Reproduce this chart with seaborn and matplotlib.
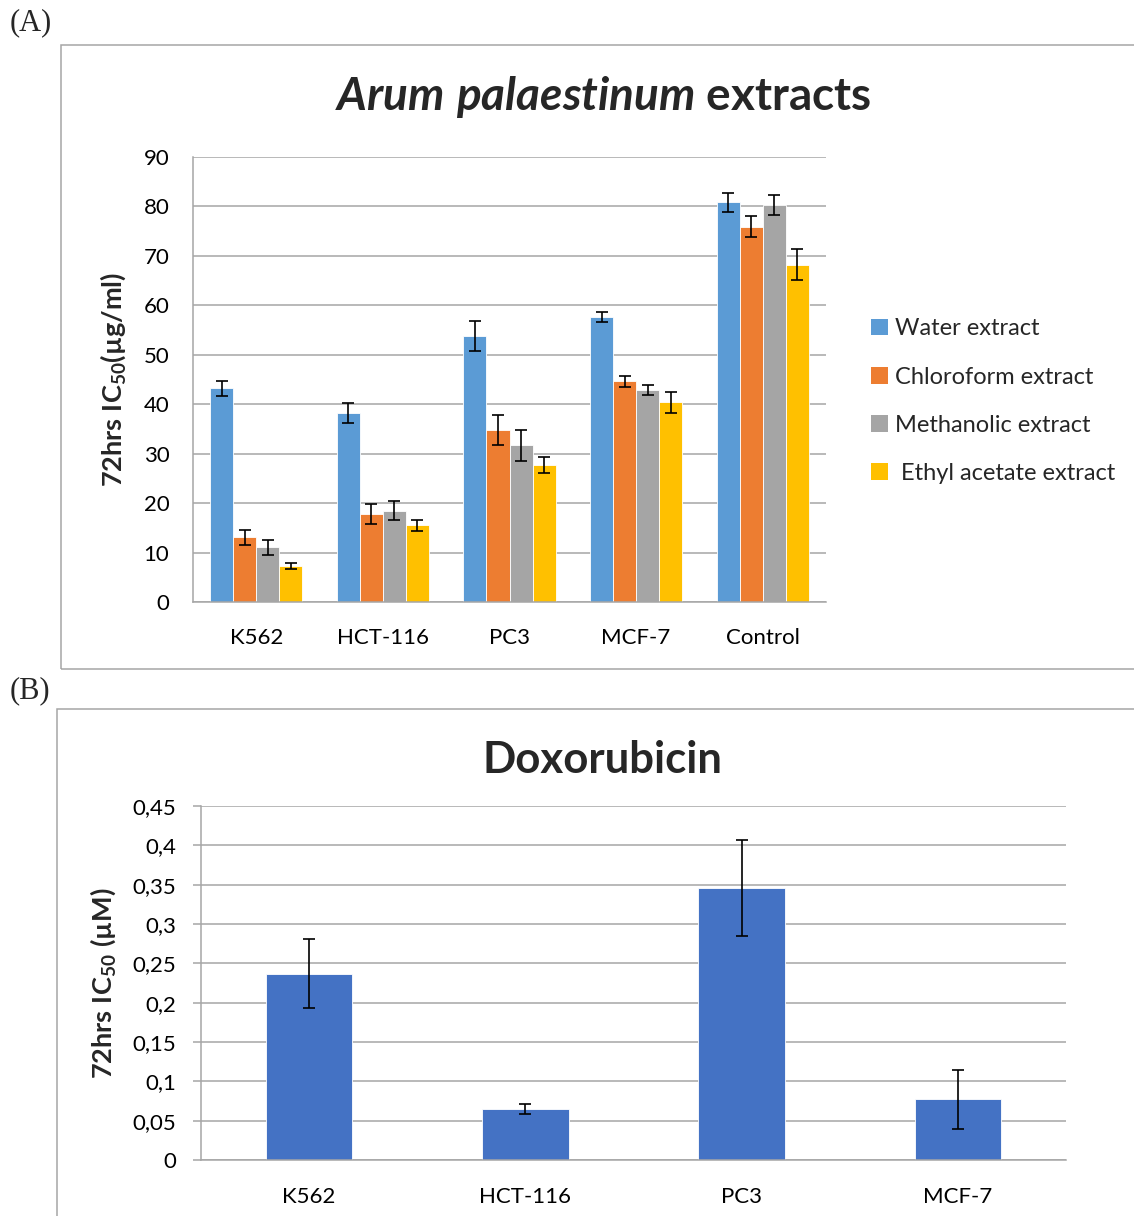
import matplotlib
matplotlib.use("Agg")
import matplotlib.pyplot as plt
from matplotlib.patches import Rectangle, Patch
from matplotlib.ticker import FixedLocator, FixedFormatter
import seaborn as sns
import pandas as pd

# ---------------- data ----------------
cell_lines = ["K562", "HCT-116", "PC3", "MCF-7", "Control"]
extracts = ["Water extract", "Chloroform extract", "Methanolic extract", " Ethyl acetate extract"]
water = [43.2, 38.2, 53.8, 57.6, 80.8]
water_err = [1.5, 2.0, 3.0, 1.0, 2.0]
chloroform = [13.1, 17.8, 34.8, 44.6, 75.9]
chloroform_err = [1.5, 2.0, 3.1, 1.1, 2.1]
methanolic = [11.1, 18.5, 31.7, 42.9, 80.3]
methanolic_err = [1.5, 2.0, 3.1, 1.0, 2.0]
ethyl = [7.2, 15.5, 27.7, 40.4, 68.2]
ethyl_err = [0.6, 1.1, 1.6, 2.1, 3.1]
a_yticks = [0, 10, 20, 30, 40, 50, 60, 70, 80, 90]

dox_lines = ["K562", "HCT-116", "PC3", "MCF-7"]
dox = [0.237, 0.065, 0.346, 0.077]
dox_err = [0.044, 0.006, 0.061, 0.037]
b_yticks = [0, 0.05, 0.1, 0.15, 0.2, 0.25, 0.3, 0.35, 0.4, 0.45]
b_yticklabels = ["0", "0,05", "0,1", "0,15", "0,2", "0,25", "0,3", "0,35", "0,4", "0,45"]

colors = ["#5B9BD5", "#ED7D31", "#A5A5A5", "#FFC000"]
dox_color = "#4472C4"
grid_c = "#A6A6A6"

# ---------------- style ----------------
sns.set_theme(style="white")
plt.rcParams["font.family"] = ["Lato", "DejaVu Sans"]
plt.rcParams["mathtext.fontset"] = "custom"
plt.rcParams["mathtext.rm"] = "Lato"
plt.rcParams["mathtext.bf"] = "Lato:bold"
plt.rcParams["mathtext.it"] = "Lato:italic:bold"

W, H = 1134, 1216
fig = plt.figure(figsize=(W / 100, H / 100), dpi=100)

def fx(px):
    return px / W

def fy(py):
    return 1 - py / H

TICK_FS = 16

# ---------------- panel A ----------------
axA = fig.add_axes([fx(193), fy(602), fx(826) - fx(193), fy(157) - fy(602)])
series = [water, chloroform, methanolic, ethyl]
errs = [water_err, chloroform_err, methanolic_err, ethyl_err]
rows = []
for name, vals in zip(extracts, series):
    for c, v in zip(cell_lines, vals):
        rows.append({"cell": c, "ic50": v, "extract": name})
dfA = pd.DataFrame(rows)
sns.barplot(data=dfA, x="cell", y="ic50", hue="extract", order=cell_lines,
            hue_order=extracts, palette=colors, width=0.727, errorbar=None,
            edgecolor="white", linewidth=0.6, saturation=1, ax=axA, legend=False)
for cont, e in zip(axA.containers, errs):
    xs = [p.get_x() + p.get_width() / 2 for p in cont.patches]
    ys = [p.get_height() for p in cont.patches]
    axA.errorbar(xs, ys, yerr=e, fmt="none", ecolor="black", elinewidth=1.2,
                 capsize=4.3, capthick=1.2, zorder=5)
axA.set_ylim(0, 90)
axA.set_yticks(a_yticks)
axA.set_xlim(-0.5, len(cell_lines) - 0.5)
axA.yaxis.grid(True, color=grid_c, linewidth=1.1)
axA.set_axisbelow(True)
for s in ["top", "right"]:
    axA.spines[s].set_visible(False)
for s in ["left", "bottom"]:
    axA.spines[s].set_color(grid_c)
    axA.spines[s].set_linewidth(1.1)
axA.tick_params(axis="y", length=0, pad=17, labelsize=TICK_FS, labelcolor="black")
axA.tick_params(axis="x", length=0, pad=19, labelsize=TICK_FS, labelcolor="black")
axA.set_xlabel("")
axA.set_ylabel(r"$\mathbf{72hrs\ IC}_{\mathbf{50}}\mathbf{(µg/ml)}$", fontsize=19.5)
axA.yaxis.set_label_coords(-0.103, 0.5)

fig.text(fx(603), fy(97), r"$\mathit{Arum\ palaestinum}$ extracts", ha="center",
         va="center", fontsize=33, fontweight="bold")

handles = [Patch(facecolor=c, edgecolor="none") for c in colors]
fig.legend(handles, extracts, loc="upper left", bbox_to_anchor=(fx(862), fy(309)),
           frameon=False, fontsize=17, handlelength=0.7, handleheight=0.7,
           handletextpad=0.3, labelspacing=1.15, borderaxespad=0)

# ---------------- panel B ----------------
axB = fig.add_axes([fx(201), fy(1160), fx(1066) - fx(201), fy(806) - fy(1160)])
dfB = pd.DataFrame({"cell": dox_lines, "ic50": dox})
sns.barplot(data=dfB, x="cell", y="ic50", order=dox_lines, color=dox_color,
            width=0.4, errorbar=None, edgecolor="white", linewidth=0.6,
            saturation=1, ax=axB)
cont = axB.containers[0]
xs = [p.get_x() + p.get_width() / 2 for p in cont.patches]
ys = [p.get_height() for p in cont.patches]
axB.errorbar(xs, ys, yerr=dox_err, fmt="none", ecolor="black", elinewidth=1.2,
             capsize=4.3, capthick=1.2, zorder=5)
axB.set_ylim(0, 0.45)
axB.set_xlim(-0.5, len(dox_lines) - 0.5)
axB.yaxis.set_major_locator(FixedLocator(b_yticks))
axB.yaxis.set_major_formatter(FixedFormatter(b_yticklabels))
axB.yaxis.grid(True, color=grid_c, linewidth=1.1)
axB.set_axisbelow(True)
bounds = [i - 0.5 for i in range(len(dox_lines) + 1)]
axB.set_xticks(bounds)
axB.set_xticklabels([""] * len(bounds))
axB.set_xticks(list(range(len(dox_lines))), minor=True)
axB.set_xticklabels(dox_lines, minor=True)
axB.tick_params(axis="x", which="major", length=6, width=1.1, color=grid_c, direction="out")
axB.tick_params(axis="x", which="minor", length=0, pad=19.5, labelsize=TICK_FS, labelcolor="black")
axB.tick_params(axis="y", length=6, width=1.1, color=grid_c, direction="out", pad=12,
                labelsize=TICK_FS, labelcolor="black", left=True)
for s in ["top", "right"]:
    axB.spines[s].set_visible(False)
for s in ["left", "bottom"]:
    axB.spines[s].set_color(grid_c)
    axB.spines[s].set_linewidth(1.1)
axB.set_xlabel("")
axB.set_ylabel(r"$\mathbf{72hrs\ IC}_{\mathbf{50}}\mathbf{\ (µM)}$", fontsize=19.5)
axB.yaxis.set_label_coords(-0.096, 0.5)

fig.text(fx(603), fy(760), "Doxorubicin", ha="center", va="center",
         fontsize=31.5, fontweight="bold")

# ---------------- frames and panel labels ----------------
fig.patches.append(Rectangle((fx(61), fy(669)), 1.2, fy(45) - fy(669), transform=fig.transFigure,
                             fill=False, edgecolor=grid_c, linewidth=1.1))
fig.patches.append(Rectangle((fx(57), fy(1300)), 1.2, fy(709) - fy(1300), transform=fig.transFigure,
                             fill=False, edgecolor=grid_c, linewidth=1.1))
fig.text(fx(10), fy(23), "(A)", ha="left", va="center", fontsize=22,
         family="Liberation Serif")
fig.text(fx(10), fy(691), "(B)", ha="left", va="center", fontsize=22,
         family="Liberation Serif")

fig.savefig("out.png", dpi=100, facecolor="white")
